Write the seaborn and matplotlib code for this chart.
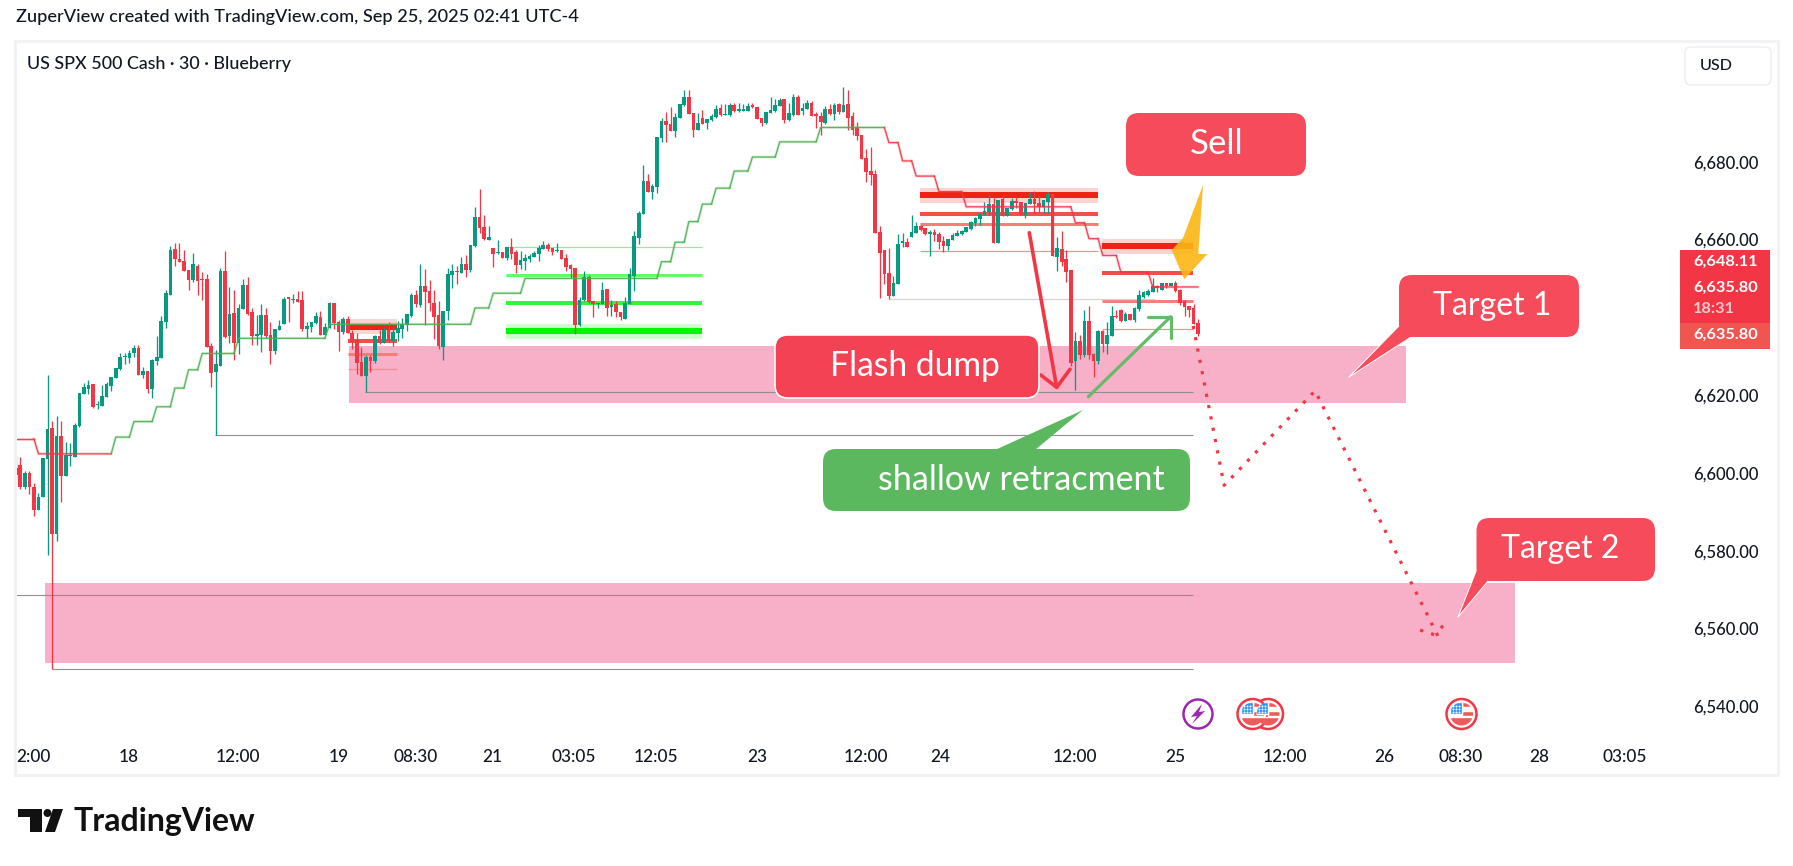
import matplotlib
matplotlib.use('Agg')
import matplotlib.pyplot as plt
import seaborn as sns
import numpy as np
from matplotlib.patches import FancyBboxPatch, Polygon, Circle, Rectangle

# candles, one value per 30 min bar
opens = [6599.5,6602.1,6596.5,6600.0,6596.4,6590.5,6593.9,6603.7,6611.6,6584.3,
    6609.5,6599.1,6604.3,6604.0,6612.1,6620.3,6621.6,6622.9,6617.4,6617.2,
    6619.5,6622.4,6624.4,6626.7,6629.7,6629.6,6630.9,6632.1,6625.2,6626.2,
    6621.6,6628.8,6629.6,6638.9,6645.7,6657.6,6655.0,6654.5,6652.2,6649.6,
    6653.2,6649.8,6649.8,6632.6,6625.9,6627.6,6651.9,6635.2,6641.1,6633.3,
    6642.1,6648.3,6641.4,6635.3,6635.4,6640.6,6635.4,6631.3,6636.7,6638.4,
    6645.0,6644.4,6644.7,6644.4,6637.0,6637.5,6638.5,6640.1,6635.4,6637.2,
    6643.7,6638.8,6636.2,6639.6,6636.0,6634.1,6628.5,6624.9,6629.8,6628.7,
    6635.2,6633.4,6636.7,6633.9,6636.0,6637.0,6638.0,6640.3,6645.7,6643.1,
    6648.0,6646.7,6643.7,6640.6,6632.4,6641.6,6650.9,6651.8,6651.4,6653.7,
    6652.2,6658.3,6665.8,6663.2,6659.9,6657.8,6656.5,6656.8,6655.2,6658.1,
    6656.8,6653.4,6654.5,6655.0,6655.5,6656.3,6657.6,6658.6,6657.8,6657.0,
    6657.3,6655.2,6653.4,6652.7,6638.0,6644.4,6650.4,6644.2,6643.4,6643.4,
    6647.3,6642.7,6643.4,6641.4,6639.6,6643.4,6650.6,6660.4,6666.5,6675.0,
    6672.2,6673.5,6686.1,6690.5,6689.7,6687.9,6691.2,6694.6,6696.6,6692.5,
    6688.1,6691.2,6689.9,6690.7,6691.5,6693.8,6692.0,6692.0,6694.6,6693.1,
    6693.1,6693.0,6694.3,6694.1,6691.2,6689.9,6692.5,6693.0,6694.3,6696.1,
    6690.7,6692.0,6696.6,6693.0,6693.5,6695.1,6692.0,6691.7,6689.9,6693.5,
    6692.3,6694.8,6692.8,6694.8,6691.7,6688.9,6686.9,6680.9,6677.6,6676.8,
    6661.9,6657.3,6651.4,6645.5,6648.6,6659.2,6659.4,6660.6,6661.7,6663.5,
    6663.0,6661.5,6661.9,6661.4,6659.6,6658.3,6659.9,6660.9,6661.4,6661.9,
    6662.7,6664.2,6665.3,6666.3,6667.1,6669.1,6659.1,6670.4,6666.0,6667.8,
    6669.9,6669.6,6666.3,6669.1,6670.4,6669.4,6668.4,6669.6,6671.7,6655.5,
    6657.6,6655.0,6652.2,6628.8,6633.9,6630.3,6639.1,6630.6,6628.8,6636.5,
    6633.1,6635.2,6640.3,6641.9,6639.1,6640.9,6639.3,6642.1,6645.2,6645.7,
    6646.5,6648.1,6647.0,6648.8,6648.1,6648.8,6647.0,6644.2,6642.9,6642.4,6638.5]
highs = [6604.4,6604.1,6600.5,6600.5,6597.3,6594.8,6603.9,6625.2,6613.4,6614.7,
    6613.4,6607.9,6607.7,6612.9,6620.5,6623.1,6623.9,6622.9,6618.5,6622.6,
    6623.4,6624.7,6627.0,6630.9,6630.9,6631.6,6632.9,6632.9,6627.3,6626.2,
    6629.3,6635.2,6640.3,6647.0,6658.3,6659.1,6659.1,6657.3,6652.2,6656.5,
    6653.7,6651.6,6651.1,6633.4,6631.6,6652.7,6657.0,6647.8,6647.0,6643.4,
    6649.8,6650.4,6642.3,6640.6,6643.4,6642.4,6638.8,6637.0,6639.3,6645.2,
    6645.2,6646.0,6646.8,6646.8,6638.8,6638.8,6641.4,6641.6,6638.5,6643.9,
    6643.7,6639.3,6640.1,6640.3,6636.7,6636.0,6632.3,6630.3,6630.3,6635.4,
    6636.7,6637.5,6638.8,6637.7,6639.0,6639.8,6640.8,6646.2,6647.0,6653.7,
    6652.4,6649.6,6647.0,6644.2,6641.6,6652.6,6653.7,6653.2,6655.5,6656.0,
    6658.6,6668.3,6673.0,6666.3,6663.5,6657.8,6659.9,6656.8,6658.1,6660.4,
    6657.3,6657.0,6656.3,6656.3,6657.0,6658.6,6659.6,6659.1,6657.8,6659.1,
    6657.3,6656.3,6653.7,6652.7,6645.2,6651.9,6650.9,6644.2,6643.7,6649.1,
    6647.3,6644.4,6644.2,6641.4,6645.2,6652.7,6662.2,6667.3,6679.1,6676.8,
    6674.3,6686.3,6691.2,6692.8,6694.1,6692.5,6694.8,6698.4,6698.4,6692.5,
    6692.5,6693.3,6691.0,6692.3,6694.6,6694.8,6694.8,6695.1,6695.1,6695.1,
    6694.8,6695.1,6695.1,6694.1,6691.2,6692.8,6696.6,6696.1,6696.4,6696.1,
    6695.1,6697.4,6697.1,6695.1,6695.9,6695.6,6692.8,6692.8,6694.3,6694.8,
    6695.1,6695.1,6699.2,6698.4,6692.8,6690.2,6686.9,6683.3,6683.8,6677.9,
    6663.5,6657.3,6657.8,6650.6,6661.4,6661.6,6660.4,6666.3,6664.5,6663.7,
    6663.0,6662.4,6662.7,6661.9,6660.9,6660.1,6661.7,6662.4,6662.4,6663.2,
    6664.8,6665.8,6666.8,6669.6,6671.7,6670.7,6670.2,6671.4,6668.1,6670.7,
    6671.0,6669.6,6669.4,6672.2,6672.5,6671.2,6670.2,6672.2,6671.9,6660.7,
    6662.2,6657.3,6652.2,6636.2,6635.5,6641.9,6642.9,6630.8,6636.7,6636.7,
    6638.8,6642.9,6641.9,6642.1,6641.4,6640.9,6642.7,6647.0,6646.8,6647.3,
    6650.1,6648.3,6648.8,6648.8,6648.8,6649.3,6647.3,6644.5,6642.9,6643.4,6639.6]
lows = [6598.6,6595.9,6595.9,6594.6,6588.8,6590.5,6593.9,6578.9,6549.6,6582.5,
    6592.6,6599.1,6601.9,6604.0,6611.9,6620.3,6620.3,6616.7,6616.5,6617.2,
    6619.5,6621.1,6624.4,6626.5,6628.0,6628.3,6629.8,6625.2,6624.4,6620.6,
    6619.3,6627.8,6629.6,6637.3,6645.7,6653.2,6654.2,6651.9,6647.0,6649.1,
    6645.7,6644.4,6632.4,6622.1,6609.7,6627.5,6634.7,6633.4,6629.0,6630.6,
    6642.1,6640.6,6632.9,6632.9,6631.1,6634.8,6628.0,6630.6,6636.7,6638.3,
    6638.8,6643.7,6643.9,6636.5,6634.7,6636.2,6638.3,6635.4,6635.4,6637.2,
    6637.0,6631.3,6635.7,6636.0,6631.8,6625.4,6624.9,6620.7,6625.9,6628.2,
    6633.1,6633.4,6633.6,6632.6,6633.9,6634.7,6636.5,6640.1,6642.6,6642.6,
    6638.0,6641.6,6634.4,6631.8,6629.0,6639.3,6647.5,6648.6,6651.4,6650.4,
    6651.6,6658.0,6661.7,6659.9,6659.9,6652.9,6656.3,6655.2,6654.7,6655.0,
    6651.4,6652.4,6652.2,6654.2,6655.5,6654.5,6657.6,6657.0,6656.0,6656.8,
    6655.0,6651.9,6650.1,6635.7,6637.8,6644.2,6643.6,6640.1,6642.4,6643.4,
    6640.3,6640.3,6640.1,6639.3,6639.6,6643.4,6646.8,6658.8,6666.5,6672.2,
    6670.4,6672.0,6685.1,6685.1,6687.9,6686.3,6691.2,6694.3,6692.3,6686.3,
    6688.1,6689.7,6688.4,6690.4,6691.2,6691.7,6692.0,6691.7,6692.8,6692.8,
    6693.0,6693.0,6693.8,6691.0,6689.2,6689.7,6692.5,6692.8,6694.3,6689.9,
    6690.4,6691.7,6692.0,6692.0,6693.5,6691.7,6688.7,6686.9,6689.7,6692.0,
    6690.7,6692.3,6692.8,6688.1,6686.9,6685.6,6680.7,6674.8,6674.0,6661.7,
    6645.0,6648.6,6644.7,6645.5,6648.6,6658.0,6658.1,6660.6,6661.7,6662.2,
    6661.2,6655.8,6659.6,6657.6,6656.8,6657.3,6659.9,6660.9,6661.2,6661.9,
    6662.4,6663.5,6663.7,6666.3,6666.3,6659.1,6659.1,6666.0,6666.0,6667.6,
    6668.1,6666.3,6665.5,6669.0,6666.6,6666.8,6666.8,6666.8,6655.8,6651.9,
    6653.2,6649.1,6627.5,6621.3,6629.4,6629.7,6629.4,6624.7,6628.0,6631.1,
    6630.6,6635.2,6639.8,6638.8,6639.1,6639.3,6638.8,6641.6,6645.0,6645.5,
    6646.5,6646.5,6647.0,6647.5,6648.1,6646.5,6643.2,6640.3,6640.2,6638.3,6635.2]
closes = [6601.2,6596.5,6599.9,6596.5,6590.5,6593.8,6603.9,6611.3,6584.3,6609.5,
    6599.3,6604.7,6604.4,6612.4,6620.5,6622.1,6622.6,6617.0,6617.6,6619.8,
    6622.9,6624.7,6627.0,6629.8,6629.8,6630.9,6632.1,6625.2,6626.2,6621.6,
    6629.1,6629.8,6639.0,6646.2,6657.3,6655.0,6654.2,6651.9,6649.6,6653.7,
    6649.3,6649.6,6632.4,6625.7,6628.0,6651.9,6634.9,6640.8,6633.4,6642.4,
    6648.3,6640.8,6635.2,6635.4,6640.6,6635.2,6631.3,6637.0,6637.8,6644.7,
    6644.8,6644.5,6643.9,6637.0,6637.8,6638.8,6640.3,6635.4,6637.5,6643.7,
    6638.5,6636.2,6639.6,6636.0,6633.6,6628.2,6624.9,6629.8,6628.7,6635.2,
    6633.4,6636.7,6633.9,6636.2,6637.2,6638.3,6640.8,6645.7,6643.4,6648.0,
    6646.5,6643.7,6640.1,6632.6,6641.6,6651.1,6651.9,6651.6,6653.7,6652.2,
    6658.6,6665.8,6663.0,6660.1,6660.6,6656.3,6656.8,6655.2,6658.1,6656.3,
    6653.4,6654.7,6655.2,6655.8,6656.5,6657.8,6658.6,6657.6,6656.8,6657.2,
    6655.0,6652.9,6652.4,6638.0,6644.4,6650.4,6643.9,6643.4,6643.7,6647.0,
    6642.4,6642.9,6641.4,6640.1,6643.7,6651.1,6660.9,6666.8,6675.0,6672.2,
    6673.7,6686.3,6690.5,6689.4,6687.9,6691.5,6694.8,6696.6,6692.3,6688.1,
    6689.9,6689.7,6691.0,6691.7,6693.5,6692.0,6692.2,6694.6,6693.0,6693.3,
    6693.3,6694.3,6694.1,6691.0,6689.9,6692.8,6693.3,6694.6,6695.9,6690.7,
    6692.5,6696.6,6692.0,6693.8,6695.1,6691.7,6691.8,6690.2,6693.5,6692.3,
    6694.6,6692.8,6694.6,6691.2,6688.1,6686.6,6680.7,6677.3,6676.6,6661.7,
    6656.5,6651.1,6645.5,6648.8,6658.8,6659.4,6658.1,6661.9,6663.5,6662.4,
    6661.4,6661.9,6661.2,6659.4,6658.3,6660.1,6661.2,6661.7,6662.2,6663.2,
    6664.5,6665.5,6666.6,6667.3,6669.1,6659.1,6670.2,6666.0,6668.1,6669.9,
    6669.4,6666.3,6669.4,6670.4,6669.1,6668.4,6670.2,6671.7,6655.8,6657.8,
    6654.2,6651.6,6628.3,6633.9,6630.3,6639.1,6630.3,6628.8,6636.5,6633.1,
    6635.5,6640.3,6640.1,6639.1,6640.9,6639.3,6642.4,6645.7,6646.5,6646.8,
    6648.1,6647.5,6648.8,6648.1,6648.8,6646.8,6643.7,6642.7,6641.9,6638.3,6635.8]

# trailing stop: first bar of each level and its price
trail_starts = [0, 5, 22, 26, 31, 35, 38, 41, 49, 69, 101, 105, 112, 142, 145, 148, 151, 154, 158, 162, 168, 177,
    192, 195, 198, 203, 209, 233, 236, 239, 243, 250]
trail_levels = [6608.8, 6604.9, 6609.2, 6613.2, 6617.0, 6621.8, 6626.5, 6630.7, 6634.6, 6638.2, 6642.4, 6646.2, 6650.0,
    6654.3, 6659.3, 6664.6, 6669.1, 6673.2, 6677.6, 6681.2, 6685.1, 6688.8,
    6684.9, 6680.2, 6676.3, 6672.3, 6668.4, 6664.3, 6660.2, 6655.9, 6651.6, 6647.8]
trail_is_long = [0, 0, 1, 1, 1, 1, 1, 1, 1, 1, 1, 1, 1, 1, 1, 1, 1, 1, 1, 1, 1, 1,
    0, 0, 0, 0, 0, 0, 0, 0, 0, 0]
trail_end = 260

# zones: bar from, bar to, price low, price high
zone_bars = [(73.3, 305.7), (6.4, 329.7)]
zone_prices = [(6618.0, 6632.6), (6551.2, 6571.7)]

# thin rays from swing points
ray_starts = [-0.2, 8, 43.8, 76.8]
ray_prices = [6568.5, 6549.6, 6609.7, 6620.7]
ray_end = 258.9
light_ray = (192, 250.6, 6644.6)

# volume-profile style levels: bars, band, thick, medium, light, thin
red_groups = [
    dict(bars=(73, 83.8), band=(6635.7, 6639.6), levels=[6637.5, 6633.9, 6630.6, 6626.6]),
    dict(bars=(198.8, 238), band=(6669.4, 6673.2), levels=[6671.4, 6666.6, 6664.1, 6657.0]),
    dict(bars=(238.9, 258.9), band=(6656.3, 6660.1), levels=[6658.3, 6651.4, 6644.2, 6636.9]),
]
green_bars = (107.8, 150.9)
green_band = (6634.4, 6638.3)
green_levels = [6636.5, 6643.8, 6650.8, 6658.0]

# projected path of the drawing
path_bars = [258.9, 265.7, 285.7, 312.7, 314.3]
path_prices = [6637.8, 6596.8, 6621.1, 6558.1, 6562.2]
path_hook_bars = [308.8, 312.7]
path_hook_prices = [6559.6, 6558.1]

price_ticks = [6680, 6660, 6620, 6600, 6580, 6560, 6540]
time_tick_bars = [4, 24.9, 48.9, 71, 88, 104.7, 122.8, 140.8, 163, 187, 203.2, 233, 254.9, 279.1, 300.9, 317.8, 334.9, 353.7]
time_tick_labels = ['2:00', '18', '12:00', '19', '08:30', '21', '03:05', '12:05', '23', '12:00', '24', '12:00', '25',
    '12:00', '26', '08:30', '28', '03:05']

WIDTH, HEIGHT = 1793, 866
BAR_PX, BAR0_PX = 4.548, 15.7
PRICE_PX, PRICE0_PY = 3.89, 161.7
AX_L, AX_R, AX_T, AX_B = 15, 1680, 41, 738
UP, DOWN = '#089981', '#F23645'
CALLOUT = '#F54B5B'
INK = '#131722'
px = 0.72  # one pixel in points at dpi 100


def setup_plotting_style():
    sns.set_theme(style="white")
    plt.rcParams['font.family'] = ['Lato', 'DejaVu Sans']
    plt.rcParams.update({'figure.dpi': 100, 'savefig.dpi': 100})


def plot_candles(ax):
    assert len(opens) == len(highs) == len(lows) == len(closes) == 261
    o, h, l, c = map(np.array, (opens, highs, lows, closes))
    bars = np.arange(len(o))
    colors = np.where(c >= o, UP, DOWN)
    ax.vlines(bars, l, h, colors=colors, lw=1.3 * px, zorder=5)
    ax.bar(bars, np.maximum(np.abs(c - o), 0.35), bottom=np.minimum(o, c), width=0.8, color=colors, lw=0, zorder=5)


def plot_trail(ax):
    for i, (start, level) in enumerate(zip(trail_starts, trail_levels)):
        stop = trail_starts[i + 1] - 1 if i + 1 < len(trail_starts) else trail_end
        xs, ys = [start, stop], [level, level]
        if i > 0:
            xs = [start - 1] + xs
            ys = [trail_levels[i - 1]] + ys
        col = '#4CAF50' if trail_is_long[i] else DOWN
        sns.lineplot(x=xs, y=ys, ax=ax, color=col, lw=3 * px, alpha=0.2, estimator=None, sort=False, zorder=6)
        sns.lineplot(x=xs, y=ys, ax=ax, color=col, lw=1.3 * px, alpha=0.9, estimator=None, sort=False, zorder=6)


def plot_levels(ax):
    for (b0, b1), (p0, p1) in zip(zone_bars, zone_prices):
        ax.fill_between([b0, b1], p0, p1, color='#F8AFC8', lw=0, zorder=1)
    for x0, p in zip(ray_starts, ray_prices):
        ax.hlines(p, x0, ray_end, color='#8f8f8f', lw=1.1 * px, zorder=3)
    ax.hlines(light_ray[2], light_ray[0], light_ray[1], color='#d4d4d4', lw=1.2 * px, zorder=3)
    reds = ['#EE2318', '#F05048', '#F57F78', '#F09090']
    widths = [6, 4, 3, 1.2]
    for g in red_groups:
        b0, b1 = g['bars']
        ax.fill_between([b0, b1], g['band'][0], g['band'][1], color='#FCD3D0', lw=0, zorder=2)
        for p, col, w in zip(g['levels'], reds, widths):
            ax.hlines(p, b0, b1, color=col, lw=w * px, zorder=2.5)
    ax.fill_between(green_bars, green_band[0], green_band[1], color='#CCFFCC', lw=0, zorder=2)
    greens = ['#00F800', '#33F533', '#66FB66', '#90EE90']
    for p, col, w in zip(green_levels, greens, widths):
        ax.hlines(p, green_bars[0], green_bars[1], color=col, lw=w * px, zorder=2.5)


def plot_path(ax):
    dots = (0, (1, 2.6))
    ax.plot(path_bars, path_prices, color=DOWN, lw=3.2 * px, ls=dots, zorder=7)
    ax.plot(path_hook_bars, path_hook_prices, color=DOWN, lw=3.2 * px, ls=dots, zorder=7)


def callout(ov, box, text, center, fs, tail=None, color=CALLOUT, edge=None):
    x0, y0, x1, y1 = box
    if tail:
        ov.add_patch(Polygon(tail, closed=True, fc=color, ec='none', zorder=8))
        ov.plot([tail[0][0], tail[1][0]], [tail[0][1], tail[1][1]], color='white', lw=1.0 * px, zorder=8)
        ov.plot([tail[2][0], tail[1][0]], [tail[2][1], tail[1][1]], color='white', lw=1.0 * px, zorder=8)
    ov.add_patch(FancyBboxPatch((x0, y0), x1 - x0, y1 - y0, boxstyle='round,pad=0,rounding_size=13', fc=color,
                                ec=edge or 'none', lw=1.6 * px, zorder=8))
    ov.text(center[0], center[1], text, color='white', fontsize=fs, ha='center', va='center', zorder=9)


def flag_icon(ov, cx, cy):
    ring = Circle((cx, cy), 15, fc='white', ec=DOWN, lw=2.5 * px, zorder=8)
    ov.add_patch(ring)
    clip = Circle((cx, cy), 11.5, transform=ov.transData)
    parts = [
        Rectangle((cx - 12, cy + 3), 24, 9, fc='#F05A5A', zorder=8.1),
        Rectangle((cx, cy - 3), 12, 5, fc='#F05A5A', zorder=8.1),
        Rectangle((cx, cy - 12), 12, 5, fc='#F05A5A', zorder=8.1),
        Rectangle((cx - 12, cy - 12), 12, 12, fc='#2F95F0', zorder=8.2),
    ]
    for p in parts:
        ov.add_patch(p)
        p.set_clip_path(clip)
    xs, ys = np.meshgrid(cx - np.array([9, 6, 3]), cy - np.array([8, 5, 2]))
    ov.scatter(xs.ravel(), ys.ravel(), s=2, c='white', lw=0, zorder=8.3)


def bolt_icon(ov, cx, cy):
    ov.add_patch(Circle((cx, cy), 14.5, fc='white', ec='#9C27B0', lw=2.5 * px, zorder=8))
    ov.add_patch(Polygon([(cx + 4, cy - 10), (cx - 7, cy + 3), (cx - 1, cy + 2), (cx - 6, cy + 10), (cx + 7, cy - 3),
                          (cx + 1, cy - 2)], closed=True, fc='#9C27B0', ec='none', zorder=8.1))


def main():
    setup_plotting_style()
    fig = plt.figure(figsize=(WIDTH / 100, HEIGHT / 100), facecolor='white')
    ax = fig.add_axes([AX_L / WIDTH, 1 - AX_B / HEIGHT, (AX_R - AX_L) / WIDTH, (AX_B - AX_T) / HEIGHT])
    ax.set_xlim((AX_L - BAR0_PX) / BAR_PX, (AX_R - BAR0_PX) / BAR_PX)
    ax.set_ylim(6680 - (AX_B - PRICE0_PY) / PRICE_PX, 6680 - (AX_T - PRICE0_PY) / PRICE_PX)
    sns.despine(ax=ax, left=True, right=True, top=True, bottom=True)
    plot_levels(ax)
    plot_candles(ax)
    plot_trail(ax)
    plot_path(ax)

    ax.yaxis.tick_right()
    ax.set_yticks(price_ticks)
    ax.set_yticklabels([f'{p:,.2f}' for p in price_ticks], fontsize=12, color=INK, weight='medium')
    ax.tick_params(axis='y', length=0, pad=9.4)
    ax.set_xticks(time_tick_bars)
    ax.set_xticklabels(time_tick_labels, fontsize=12.4, color=INK, weight='medium')
    ax.tick_params(axis='x', length=0, pad=7.6)
    ax.grid(False)

    # overlay in figure pixels for the hand drawn objects
    ov = fig.add_axes([0, 0, 1, 1], facecolor='none')
    ov.set_xlim(0, WIDTH)
    ov.set_ylim(HEIGHT, 0)
    ov.axis('off')

    ov.add_patch(Rectangle((15, 41), 1763, 734, fc='none', ec='#F1F2F4', lw=3 * px, zorder=0))
    ov.text(16, 17, 'ZuperView created with TradingView.com, Sep 25, 2025 02:41 UTC-4', fontsize=13.1, color=INK, va='center',
            weight='medium')
    ov.text(27, 64, 'US SPX 500 Cash · 30 · Blueberry', fontsize=12.9, color=INK, va='center', weight='medium')

    # gold sell arrow, red and green drawn arrows
    ov.add_patch(Polygon([(1203, 185), (1198.3, 254), (1207.3, 254), (1184.3, 279.3), (1171.7, 250), (1183, 238)],
                         closed=True, fc='#FBB615', ec='none', alpha=0.9, zorder=7))
    ov.plot([1029.3, 1056.7], [232.7, 387.3], color=DOWN, lw=3.6 * px, solid_capstyle='round', zorder=7)
    ov.plot([1040.7, 1056.7, 1070], [375, 387.3, 369.3], color=DOWN, lw=3.6 * px, solid_capstyle='round', zorder=7)
    ov.plot([1088.3, 1170.7], [396.7, 316.7], color='#66BB6A', lw=3.2 * px, solid_capstyle='round', zorder=7)
    ov.plot([1148.3, 1170.7, 1170.7], [316.7, 316.7, 338.3], color='#66BB6A', lw=3.2 * px, solid_capstyle='round', zorder=7)

    callout(ov, (1126, 113, 1306, 176), 'Sell', (1217, 144), 25)
    callout(ov, (775, 335, 1039, 398), 'Flash dump', (915, 366), 24.2, color='#F24253', edge='white')
    callout(ov, (1399, 275, 1579, 337), 'Target 1', (1492, 306), 23, tail=[(1399, 326), (1349, 377), (1411, 337)])
    callout(ov, (1476.5, 518, 1655, 581), 'Target 2', (1560, 549), 23, tail=[(1476.5, 570), (1458, 617), (1488, 581)])
    ov.add_patch(Polygon([(995, 450), (1083, 410), (1035, 450)], closed=True, fc='#5CB85F', ec='none', zorder=8))
    callout(ov, (823, 449, 1190, 511), 'shallow retracment', (1021, 480), 24.5, color='#5CB85F')

    # price scale tags
    ov.add_patch(FancyBboxPatch((1685, 47), 86, 38, boxstyle='round,pad=0,rounding_size=6', fc='white', ec='#EEEFF2',
                                lw=1.5 * px, zorder=8))
    ov.text(1700, 65.5, 'USD', fontsize=11.6, color=INK, va='center', zorder=9, weight='medium')
    ov.add_patch(Rectangle((1680, 250), 90, 25, fc='#F23645', ec='none', zorder=8))
    ov.add_patch(Rectangle((1680, 275), 90, 48, fc='#F23645', ec='none', zorder=8))
    ov.add_patch(Rectangle((1680, 323), 90, 26, fc='#F0564F', ec='none', zorder=8))
    ov.text(1693, 262, '6,648.11', fontsize=11.8, color='white', weight='bold', va='center', zorder=9)
    ov.text(1693, 287.5, '6,635.80', fontsize=11.8, color='white', weight='bold', va='center', zorder=9)
    ov.text(1693, 309, '18:31', fontsize=11.8, color='#FBC8CD', weight='bold', va='center', zorder=9)
    ov.text(1693, 335, '6,635.80', fontsize=11.8, color='white', weight='bold', va='center', zorder=9)

    # event icons
    bolt_icon(ov, 1198, 714)
    flag_icon(ov, 1268, 714)
    flag_icon(ov, 1252.5, 714)
    flag_icon(ov, 1461.5, 714)

    # logo
    ov.add_patch(Polygon([(18, 809), (42, 809), (42, 832), (30, 832), (30, 817), (18, 817)], closed=True, fc='#111111', ec='none'))
    ov.add_patch(Circle((47.5, 813), 4, fc='#111111', ec='none'))
    ov.add_patch(Polygon([(53, 809), (63, 809), (55, 832), (45, 832)], closed=True, fc='#111111', ec='none'))
    ov.text(73, 821, 'TradingView', fontsize=23, color='#111111', weight='bold', va='center')

    fig.savefig('out.png', dpi=100)
    plt.close(fig)


if __name__ == '__main__':
    main()
